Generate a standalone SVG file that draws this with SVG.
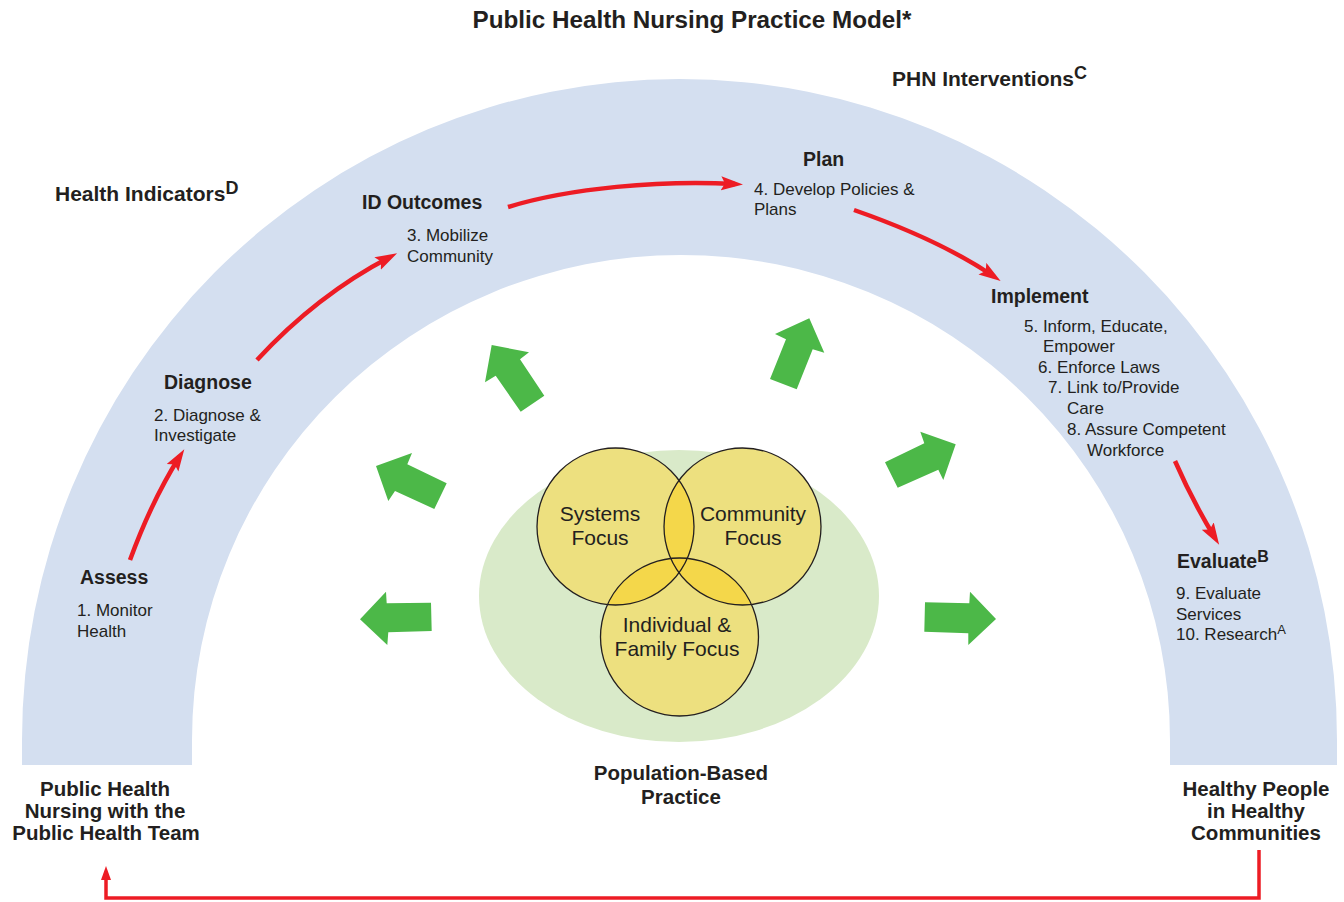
<svg xmlns="http://www.w3.org/2000/svg" width="1344" height="902" viewBox="0 0 1344 902">
<style>
text{font-family:"Liberation Sans",Arial,sans-serif;fill:#231f20}
.h{font-weight:bold;font-size:19.5px}
.b{font-size:17px}
.big{font-weight:bold;font-size:21px}
.ct{font-size:21px;text-anchor:middle}
.bot{font-weight:bold;font-size:20.5px;text-anchor:middle}
.red{fill:none;stroke:#ed1c24;stroke-width:4.5;marker-end:url(#ah)}
.grn{fill:#4cb848}
.circ{fill:#ede07f}
.ov{fill:#f4d74a}
</style>
<defs>
<marker id="ah" markerUnits="userSpaceOnUse" markerWidth="24" markerHeight="16" refX="14" refY="7" orient="auto"><path d="M0,0 L22,7 L0,14 L4,7 Z" fill="#ed1c24"/></marker>
<marker id="ah2" markerUnits="userSpaceOnUse" markerWidth="16" markerHeight="12" refX="8" refY="5" orient="auto"><path d="M0,0 L14,5 L0,10 Z" fill="#ed1c24"/></marker>
<clipPath id="cA"><circle cx="615.5" cy="526.5" r="78.5"/></clipPath>
<clipPath id="cB"><circle cx="742.5" cy="526.5" r="78.5"/></clipPath>
<clipPath id="cC"><circle cx="679.5" cy="637" r="79"/></clipPath>
</defs>
<rect width="1344" height="902" fill="#ffffff"/>
<text x="692" y="28" text-anchor="middle" font-size="23" font-weight="bold" textLength="439" lengthAdjust="spacingAndGlyphs">Public Health Nursing Practice Model*</text>
<g id="band">
<path d="M22,765 L22,740 A657.5,661 0 0 1 1337,740 L1337,765 L1170,765 L1170,740 A489,485 0 0 0 192,740 L192,765 Z" fill="#d4dff0"/>
</g>
<text class="big" x="892" y="86">PHN Interventions<tspan font-size="18" dy="-7">C</tspan></text>
<text class="big" x="55" y="201">Health Indicators<tspan font-size="18" dy="-7">D</tspan></text>
<g id="assess"><text class="h" x="80" y="584">Assess</text><text class="b" x="77" y="616">1. Monitor</text><text class="b" x="77" y="637">Health</text></g>
<g id="diagnose"><text class="h" x="164" y="389">Diagnose</text><text class="b" x="154" y="421">2. Diagnose &amp;</text><text class="b" x="154" y="441">Investigate</text></g>
<g id="idoutcomes"><text class="h" x="362" y="209">ID Outcomes</text><text class="b" x="407" y="241">3. Mobilize</text><text class="b" x="407" y="262">Community</text></g>
<g id="plan"><text class="h" x="803" y="166">Plan</text><text class="b" x="754" y="195">4. Develop Policies &amp;</text><text class="b" x="754" y="215">Plans</text></g>
<g id="implement"><text class="h" x="991" y="303">Implement</text>
<text class="b" x="1024" y="332">5. Inform, Educate,</text>
<text class="b" x="1043" y="352">Empower</text>
<text class="b" x="1038" y="373">6. Enforce Laws</text>
<text class="b" x="1048" y="393">7. Link to/Provide</text>
<text class="b" x="1067" y="414">Care</text>
<text class="b" x="1067" y="435">8. Assure Competent</text>
<text class="b" x="1087" y="456">Workforce</text></g>
<g id="evaluate"><text class="h" x="1177" y="568">Evaluate<tspan font-size="16" dy="-6">B</tspan></text>
<text class="b" x="1176" y="599">9. Evaluate</text>
<text class="b" x="1176" y="620">Services</text>
<text class="b" x="1176" y="640">10. Research<tspan font-size="13" dy="-6">A</tspan></text></g>
<g id="population">
<ellipse cx="679" cy="596" rx="200" ry="146" fill="#d9eac9"/>
<circle class="circ" cx="615.5" cy="526.5" r="78.5"/>
<circle class="circ" cx="742.5" cy="526.5" r="78.5"/>
<circle class="circ" cx="679.5" cy="637" r="79"/>
<circle class="ov" cx="742.5" cy="526.5" r="78.5" clip-path="url(#cA)"/>
<circle class="ov" cx="679.5" cy="637" r="79" clip-path="url(#cA)"/>
<circle class="ov" cx="679.5" cy="637" r="79" clip-path="url(#cB)"/>
<g clip-path="url(#cA)"><circle cx="742.5" cy="526.5" r="78.5" fill="#f5d23c" clip-path="url(#cC)"/></g>
<g fill="none" stroke="#231f20" stroke-width="1.3">
<circle cx="615.5" cy="526.5" r="78.5"/>
<circle cx="742.5" cy="526.5" r="78.5"/>
<circle cx="679.5" cy="637" r="79"/>
</g>
<text class="ct" x="600" y="521">Systems</text><text class="ct" x="600" y="545">Focus</text>
<text class="ct" x="753" y="521">Community</text><text class="ct" x="753" y="545">Focus</text>
<text class="ct" x="677" y="632">Individual &amp;</text><text class="ct" x="677" y="656">Family Focus</text>
</g>
<g id="green-arrows">
<polygon class="grn" points="491.7,345 529,352.3 520,359.3 544.3,395.7 520.7,411.7 495.7,375.7 485,382.3"/>
<polygon class="grn" points="376,466 412,453 407.3,464.3 446.7,483.3 434.3,509 395,491 388.3,501"/>
<polygon class="grn" points="809.3,318.3 824.3,352.7 812.7,349.3 796.7,389.3 770,379 786,339.3 775,334"/>
<polygon class="grn" points="955.7,444.3 943.3,480 938.3,469.7 897.7,487.7 885,462.3 924.3,443.3 920.3,431.7"/>
<polygon class="grn" points="360,619.3 386,591.7 386.7,603.3 431,602.7 431.7,631 388.3,632.3 387.3,645"/>
<polygon class="grn" points="925,602.3 969.3,603.3 970,591.7 996,619 968.3,645 968.3,633.3 924.3,631.7"/>
</g>
<text class="bot" x="105" y="796">Public Health</text>
<text class="bot" x="105" y="818">Nursing with the</text>
<text class="bot" x="106" y="840">Public Health Team</text>
<text class="bot" x="681" y="780">Population-Based</text>
<text class="bot" x="681" y="804">Practice</text>
<text class="bot" x="1256" y="796">Healthy People</text>
<text class="bot" x="1256" y="818">in Healthy</text>
<text class="bot" x="1256" y="840">Communities</text>
<g id="connectors">
<path class="red" d="M130,560 Q152,500 180,456"/>
<path class="red" d="M257,360 Q317,295 390,257"/>
<path class="red" d="M508,207 C570,188 660,180 735,184"/>
<path class="red" d="M854,210 Q940,240 994,276.5"/>
<path class="red" d="M1175,461 Q1192,500 1215,538"/>
<path d="M1259,850 L1259,898 L106,898 L106,872" fill="none" stroke="#ed1c24" stroke-width="3.5" marker-end="url(#ah2)"/>
</g>
</svg>
